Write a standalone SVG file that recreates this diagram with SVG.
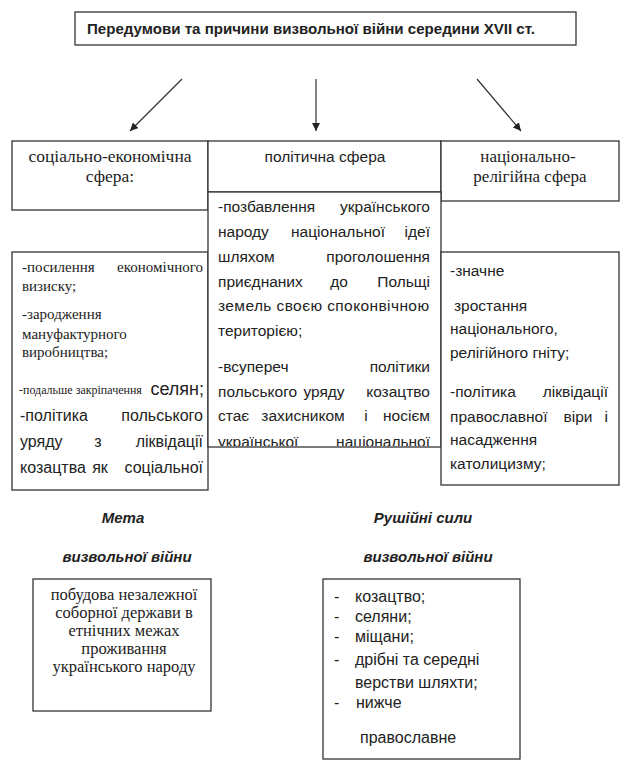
<svg xmlns="http://www.w3.org/2000/svg" width="630" height="773" viewBox="0 0 630 773">
<style>
.box{fill:#fff;stroke:#333;stroke-width:1.3}
.sans{font-family:"Liberation Sans",Arial,sans-serif;fill:#222}
.serif{font-family:"Liberation Serif","Times New Roman",serif;fill:#222}
.b16{font-size:16px}
.conn{stroke:#333;stroke-width:1.2;fill:none}
</style>
<defs>
<marker id="ah" viewBox="0 0 10 10" refX="10" refY="5" markerWidth="8" markerHeight="8" markerUnits="userSpaceOnUse" orient="auto">
<path d="M0,0 L10,5 L0,10 z" fill="#222"/>
</marker>
<clipPath id="clipPol"><rect x="208" y="192" width="233" height="254"/></clipPath>
</defs>
<rect width="630" height="773" fill="#fff"/>

<g id="title">
<rect class="box" x="75" y="12" width="501" height="33"/>
<text class="sans" x="311" y="34" font-size="14.5" font-weight="bold" text-anchor="middle" textLength="448" lengthAdjust="spacingAndGlyphs">Передумови та причини визвольної війни середини XVII ст.</text>
</g>

<g id="connectors">
<line class="conn" x1="182" y1="79" x2="130" y2="131" marker-end="url(#ah)"/>
<line class="conn" x1="316" y1="79" x2="316" y2="131" marker-end="url(#ah)"/>
<line class="conn" x1="477" y1="79" x2="521" y2="131" marker-end="url(#ah)"/>
</g>

<g id="social-header">
<rect class="box" x="12" y="141" width="196" height="69"/>
<text class="serif" x="110" y="162" font-size="17.5" text-anchor="middle">соціально-економічна</text>
<text class="serif" x="110" y="182" font-size="17.5" text-anchor="middle">сфера:</text>
</g>

<g id="political-header">
<rect class="box" x="208" y="141" width="233" height="51"/>
<text class="sans" x="325" y="162" font-size="15.5" text-anchor="middle">політична сфера</text>
</g>

<g id="national-header">
<rect class="box" x="441" y="141" width="178" height="60"/>
<text class="serif" x="528" y="162" font-size="17" text-anchor="middle">національно-</text>
<text class="serif" x="530" y="182" font-size="17" text-anchor="middle">релігійна сфера</text>
</g>

<g id="social-body">
<rect class="box" x="12" y="252" width="196" height="238"/>
<g class="serif" font-size="15">
<text x="22" y="272">-посилення</text><text x="203" y="272" text-anchor="end">економічного</text>
<text x="22" y="291">визиску;</text>
<text x="22" y="319">-зародження</text>
<text x="22" y="339">мануфактурного</text>
<text x="22" y="357">виробництва;</text>
<text x="19" y="394" font-size="12">-подальше закріпачення</text>
</g>
<g class="sans b16">
<text x="204" y="395" text-anchor="end" font-size="18">селян;</text>
<text x="20" y="421">-політика</text><text x="203" y="421" text-anchor="end">польського</text>
<text x="20" y="447">уряду</text><text x="98" y="447" text-anchor="middle">з</text><text x="203" y="447" text-anchor="end">ліквідації</text>
<text x="20" y="473">козацтва</text><text x="100" y="473" text-anchor="middle">як</text><text x="203" y="473" text-anchor="end">соціальної</text>
</g>
</g>

<g id="political-body">
<rect class="box" x="208" y="192" width="233" height="255"/>
<g class="sans" font-size="15.5" clip-path="url(#clipPol)">
<text x="218" y="212">-позбавлення</text><text x="430" y="212" text-anchor="end">українського</text>
<text x="218" y="237">народу</text><text x="338" y="237" text-anchor="middle">національної</text><text x="430" y="237" text-anchor="end">ідеї</text>
<text x="218" y="262">шляхом</text><text x="430" y="262" text-anchor="end">проголошення</text>
<text x="218" y="287">приєднаних</text><text x="339" y="287" text-anchor="middle">до</text><text x="430" y="287" text-anchor="end">Польщі</text>
<text x="218" y="311" textLength="211" lengthAdjust="spacing">земель своєю споконвічною</text>
<text x="218" y="336">територією;</text>
<text x="218" y="372">-всупереч</text><text x="430" y="372" text-anchor="end">політики</text>
<text x="218" y="397">польського</text><text x="324" y="397" text-anchor="middle">уряду</text><text x="430" y="397" text-anchor="end">козацтво</text>
<text x="218" y="421">стає</text><text x="303" y="421" text-anchor="middle">захисником</text><text x="366" y="421" text-anchor="middle">і</text><text x="430" y="421" text-anchor="end">носієм</text>
<text x="218" y="447">української</text><text x="430" y="447" text-anchor="end">національної</text>
</g>
</g>

<g id="national-body">
<rect class="box" x="441" y="252" width="178" height="233"/>
<g class="sans" font-size="15.5">
<text x="450" y="276">-значне</text>
<text x="454" y="311">зростання</text>
<text x="450" y="334">національного,</text>
<text x="450" y="358">релігійного гніту;</text>
<text x="450" y="397">-політика</text><text x="608" y="397" text-anchor="end">ліквідації</text>
<text x="450" y="422">православної</text><text x="578" y="422" text-anchor="middle">віри</text><text x="608" y="422" text-anchor="end">і</text>
<text x="450" y="445">насадження</text>
<text x="450" y="469">католицизму;</text>
</g>
</g>

<g id="goal-label">
<text class="sans" x="123" y="523" font-size="15" font-weight="bold" font-style="italic" text-anchor="middle">Мета</text>
<text class="sans" x="127" y="562" font-size="15" font-weight="bold" font-style="italic" text-anchor="middle">визвольної війни</text>
</g>

<g id="goal-box">
<rect class="box" x="33" y="579" width="178" height="132"/>
<g class="serif" font-size="16.5" text-anchor="middle">
<text x="124" y="600">побудова незалежної</text>
<text x="124" y="618">соборної держави в</text>
<text x="124" y="636">етнічних межах</text>
<text x="124" y="654">проживання</text>
<text x="124" y="672">українського народу</text>
</g>
</g>

<g id="forces-label">
<text class="sans" x="423" y="523" font-size="15" font-weight="bold" font-style="italic" text-anchor="middle">Рушійні сили</text>
<text class="sans" x="428" y="562" font-size="15" font-weight="bold" font-style="italic" text-anchor="middle">визвольної війни</text>
</g>

<g id="forces-box">
<rect class="box" x="323" y="579" width="197" height="180"/>
<g class="sans b16">
<text x="334" y="602">-</text><text x="355" y="602">козацтво;</text>
<text x="334" y="622">-</text><text x="355" y="622">селяни;</text>
<text x="334" y="642">-</text><text x="355" y="642">міщани;</text>
<text x="334" y="665">-</text><text x="355" y="665">дрібні та середні</text>
<text x="355" y="688">верстви шляхти;</text>
<text x="334" y="708">-</text><text x="356" y="708">нижче</text>
<text x="360" y="743">православне</text>
</g>
</g>
</svg>
